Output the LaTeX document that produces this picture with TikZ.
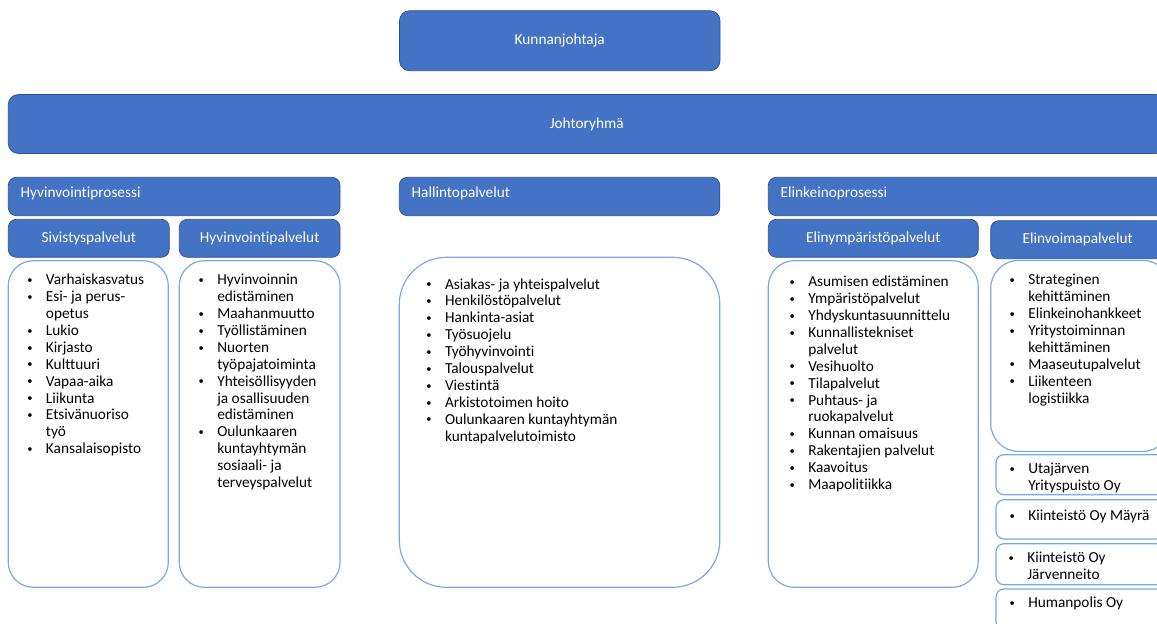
\documentclass[tikz,border=0pt]{standalone}
\usepackage{fontspec}
\setmainfont{Carlito}[Ligatures=NoCommon]
\usepackage{tikz}
\usetikzlibrary{positioning}

\definecolor{boxblue}{RGB}{68,114,196}
\definecolor{boxedge}{RGB}{47,82,143}
\definecolor{listedge}{RGB}{125,170,222}

\newcommand{\bodyfont}{\fontsize{15.3}{16.9}\selectfont}
\newcommand{\itm}{\makebox[32pt]{\raisebox{1.3pt}{\fontsize{10.5}{10.5}\selectfont\textbullet}}}

\tikzset{
    bluebox/.style={draw=boxedge, line width=0.7pt, fill=boxblue, text=white,
        rounded corners=8pt, inner sep=0pt, outer sep=0pt, font=\bodyfont},
    headbox/.style={bluebox, minimum height=38.4pt, inner xsep=12.4pt,
        text width=#1, align=left, text depth=8pt},
    subbox/.style={bluebox, minimum height=38pt, minimum width=#1},
    listbox/.style={draw=listedge, line width=1.2pt, rounded corners=#1,
        inner sep=0pt, outer sep=0pt},
    itemlist/.style={inner sep=0pt, outer sep=0pt, font=\bodyfont, text=black},
}

\begin{document}
\begin{tikzpicture}[x=1pt, y=-1pt]

    \useasboundingbox (0,0) rectangle (1157,624);
    \clip (0,0) rectangle (1157,624);

    %Top
    \node[bluebox, rounded corners=10pt, minimum width=320.5pt, minimum height=60pt] (Kunnanjohtaja) at (559.75,40.7) {Kunnanjohtaja};

    \node[bluebox, rounded corners=10pt, minimum width=1156.8pt, minimum height=59pt, anchor=north west] (Johtoryhma) at (8.3,94.5) {Johtoryhmä};

    %Process headers
    \node[headbox=306.9pt, below = +23.8pt of Johtoryhma.south west, anchor=north west] (HyvProsessi) {Hyvinvointiprosessi};
    \node[headbox=295.7pt, right = +59.3pt of HyvProsessi] (Hallinto) {Hallintopalvelut};
    \node[headbox=375pt, right = +48.5pt of Hallinto] (Elinkeino) {Elinkeinoprosessi};

    %Service headers
    \node[subbox=161pt, below = +3.6pt of HyvProsessi.south west, anchor=north west] (Sivistys) {Sivistyspalvelut};
    \node[subbox=160.7pt, below = +3.6pt of HyvProsessi.south east, anchor=north east] (HyvPalvelut) {Hyvinvointipalvelut};
    \node[subbox=210pt, below = +3.6pt of Elinkeino.south west, anchor=north west] (Elinymparisto) {Elinympäristöpalvelut};
    \node[subbox=174pt, below right = +1.4pt and +12.4pt of Elinymparisto.north east] (Elinvoima) {Elinvoimapalvelut};

    %-------------------------------------------
    %List frames

    \node[listbox=25pt, minimum width=160pt, minimum height=326.6pt, below = +3.4pt of Sivistys.south west, anchor=north west] (SivList) {};
    \node[listbox=25pt, minimum width=160.7pt, minimum height=326.6pt, below = +3.4pt of HyvPalvelut.south east, anchor=north east] (HyvList) {};
    \node[listbox=47pt, minimum width=320.5pt, minimum height=330pt, below = +41.6pt of Hallinto.south west, anchor=north west] (HallintoList) {};
    \node[listbox=26pt, minimum width=210pt, minimum height=326.6pt, below = +3.4pt of Elinymparisto.south west, anchor=north west] (ElinympList) {};
    \node[listbox=28pt, minimum width=180pt, minimum height=191pt, below = +1.7pt of Elinvoima.south west, anchor=north west] (ElinvoimaList) {};

    \node[listbox=8pt, minimum width=175pt, minimum height=40pt, below right = +3.3pt and +5.3pt of ElinvoimaList.south west] (Utajarvi) {};
    \node[listbox=8pt, minimum width=175pt, minimum height=39.3pt, below = +5pt of Utajarvi.south west, anchor=north west] (Mayra) {};
    \node[listbox=8pt, minimum width=175pt, minimum height=41pt, below = +4.7pt of Mayra.south west, anchor=north west] (Jarvenneito) {};
    \node[listbox=8pt, minimum width=175pt, minimum height=41pt, below = +4.3pt of Jarvenneito.south west, anchor=north west] (Humanpolis) {};

    %-------------------------------------------
    %Items

    \node[itemlist, below right = +24pt and +5.7pt of SivList.north west, anchor=base west] (SivItems) {%
        \begin{tabular}[t]{@{}l@{}l@{}}
        \itm & Varhaiskasvatus\\
        \itm & Esi- ja perus-\\
             & opetus\\
        \itm & Lukio\\
        \itm & Kirjasto\\
        \itm & Kulttuuri\\
        \itm & Vapaa-aika\\
        \itm & Liikunta\\
        \itm & Etsivänuoriso\\
             & työ\\
        \itm & Kansalaisopisto
        \end{tabular}};

    \node[itemlist, below right = +24pt and +6pt of HyvList.north west, anchor=base west] (HyvItems) {%
        \begin{tabular}[t]{@{}l@{}l@{}}
        \itm & Hyvinvoinnin\\
             & edistäminen\\
        \itm & Maahanmuutto\\
        \itm & Työllistäminen\\
        \itm & Nuorten\\
             & työpajatoiminta\\
        \itm & Yhteisöllisyyden\\
             & ja osallisuuden\\
             & edistäminen\\
        \itm & Oulunkaaren\\
             & kuntayhtymän\\
             & sosiaali- ja\\
             & terveyspalvelut
        \end{tabular}};

    \node[itemlist, below right = +31.7pt and +13.7pt of HallintoList.north west, anchor=base west] (HallintoItems) {%
        \begin{tabular}[t]{@{}l@{}l@{}}
        \itm & Asiakas- ja yhteispalvelut\\
        \itm & Henkilöstöpalvelut\\
        \itm & Hankinta-asiat\\
        \itm & Työsuojelu\\
        \itm & Työhyvinvointi\\
        \itm & Talouspalvelut\\
        \itm & Viestintä\\
        \itm & Arkistotoimen hoito\\
        \itm & Oulunkaaren kuntayhtymän\\
             & kuntapalvelutoimisto
        \end{tabular}};

    \node[itemlist, below right = +26pt and +8pt of ElinympList.north west, anchor=base west] (ElinympItems) {%
        \begin{tabular}[t]{@{}l@{}l@{}}
        \itm & Asumisen edistäminen\\
        \itm & Ympäristöpalvelut\\
        \itm & Yhdyskuntasuunnittelu\\
        \itm & Kunnallistekniset\\
             & palvelut\\
        \itm & Vesihuolto\\
        \itm & Tilapalvelut\\
        \itm & Puhtaus- ja\\
             & ruokapalvelut\\
        \itm & Kunnan omaisuus\\
        \itm & Rakentajien palvelut\\
        \itm & Kaavoitus\\
        \itm & Maapolitiikka
        \end{tabular}};

    \node[itemlist, below right = +24.3pt and +5.6pt of ElinvoimaList.north west, anchor=base west] (ElinvoimaItems) {%
        \begin{tabular}[t]{@{}l@{}l@{}}
        \itm & Strateginen\\
             & kehittäminen\\
        \itm & Elinkeinohankkeet\\
        \itm & Yritystoiminnan\\
             & kehittäminen\\
        \itm & Maaseutupalvelut\\
        \itm & Liikenteen\\
             & logistiikka
        \end{tabular}};

    \node[itemlist, below right = +18.7pt and +0.3pt of Utajarvi.north west, anchor=base west] (UtajarviItems) {%
        \begin{tabular}[t]{@{}l@{}l@{}}
        \itm & Utajärven\\
             & Yrityspuisto Oy
        \end{tabular}};

    \node[itemlist, below right = +21pt and +0.3pt of Mayra.north west, anchor=base west] (MayraItems) {%
        \begin{tabular}[t]{@{}l@{}l@{}}
        \itm & Kiinteistö Oy Mäyrä
        \end{tabular}};

    \node[itemlist, below right = +19pt and -0.7pt of Jarvenneito.north west, anchor=base west] (JarvenneitoItems) {%
        \begin{tabular}[t]{@{}l@{}l@{}}
        \itm & Kiinteistö Oy\\
             & Järvenneito
        \end{tabular}};

    \node[itemlist, below right = +18.7pt and +0.3pt of Humanpolis.north west, anchor=base west] (HumanpolisItems) {%
        \begin{tabular}[t]{@{}l@{}l@{}}
        \itm & Humanpolis Oy
        \end{tabular}};

\end{tikzpicture}
\end{document}
